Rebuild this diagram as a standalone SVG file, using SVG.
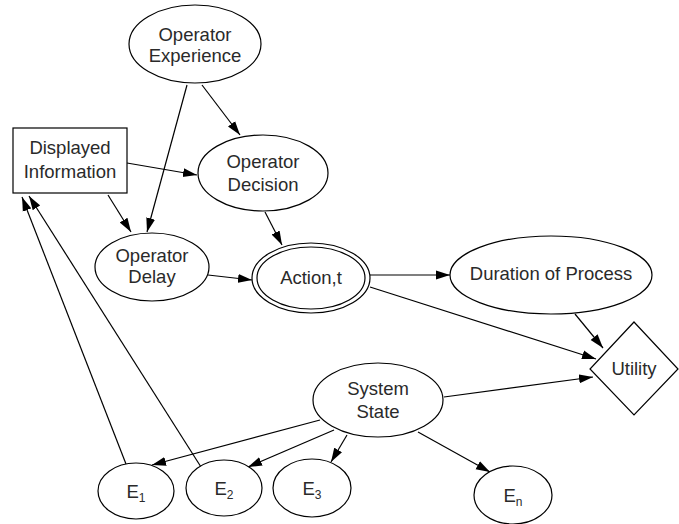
<svg xmlns="http://www.w3.org/2000/svg" width="679" height="524" viewBox="0 0 679 524">
<defs>
<marker id="ah" markerUnits="userSpaceOnUse" markerWidth="15" markerHeight="10" refX="14" refY="5" orient="auto">
<path d="M0,0.5 L14,5 L0,9.5 z" fill="#000"/>
</marker>
<style>
.n{fill:#fff;stroke:#000;stroke-width:1.2}
.t{font-family:"Liberation Sans",Arial,sans-serif;font-size:18.5px;fill:#2a2a2a;text-anchor:middle}
.s{font-size:12px}
.e{fill:none;stroke:#000;stroke-width:1.2;marker-end:url(#ah)}
</style>
</defs>
<rect width="679" height="524" fill="#fff"/>
<g id="edges">
<line class="e" x1="202" y1="85" x2="240" y2="135"/>
<line class="e" x1="187" y1="85" x2="147" y2="232"/>
<line class="e" x1="127" y1="163" x2="197" y2="175"/>
<line class="e" x1="108" y1="195" x2="131" y2="232"/>
<line class="e" x1="265" y1="212" x2="282" y2="245"/>
<line class="e" x1="208" y1="275" x2="252" y2="280"/>
<line class="e" x1="370" y1="275" x2="450" y2="275"/>
<line class="e" x1="370" y1="287" x2="596" y2="359"/>
<line class="e" x1="575" y1="314" x2="603" y2="348"/>
<line class="e" x1="444" y1="397" x2="593" y2="377"/>
<line class="e" x1="320" y1="420" x2="152" y2="465"/>
<line class="e" x1="334" y1="430" x2="248" y2="467"/>
<line class="e" x1="347" y1="435" x2="331" y2="462"/>
<line class="e" x1="418" y1="432" x2="490" y2="472"/>
<line class="e" x1="126" y1="464" x2="22" y2="197"/>
<line class="e" x1="201" y1="467" x2="29" y2="196"/>
</g>
<g id="operator-experience">
<ellipse class="n" cx="195" cy="44" rx="66" ry="39"/>
<text class="t" x="195" y="41">Operator</text>
<text class="t" x="195" y="62">Experience</text>
</g>
<g id="displayed-information">
<rect class="n" x="13" y="128" width="114" height="65"/>
<text class="t" x="70" y="154">Displayed</text>
<text class="t" x="70" y="178">Information</text>
</g>
<g id="operator-decision">
<ellipse class="n" cx="263" cy="173" rx="65" ry="38"/>
<text class="t" x="263" y="168">Operator</text>
<text class="t" x="263" y="191">Decision</text>
</g>
<g id="operator-delay">
<ellipse class="n" cx="152" cy="267" rx="57" ry="34"/>
<text class="t" x="152" y="262">Operator</text>
<text class="t" x="152" y="283">Delay</text>
</g>
<g id="action">
<ellipse class="n" cx="311" cy="278" rx="59" ry="35"/>
<ellipse class="n" cx="311" cy="278" rx="54" ry="31"/>
<text class="t" x="311" y="284">Action,t</text>
</g>
<g id="duration">
<ellipse class="n" cx="551" cy="275" rx="101" ry="39"/>
<text class="t" x="551" y="280">Duration of Process</text>
</g>
<g id="utility">
<polygon class="n" points="634,322 678,369 634,415 590,369"/>
<text class="t" x="634" y="375">Utility</text>
</g>
<g id="system-state">
<ellipse class="n" cx="378" cy="400" rx="65" ry="37"/>
<text class="t" x="378" y="395">System</text>
<text class="t" x="378" y="418">State</text>
</g>
<g id="e1">
<ellipse class="n" cx="136" cy="491" rx="38" ry="28"/>
<text class="t" x="136" y="498">E<tspan class="s" dy="4">1</tspan></text>
</g>
<g id="e2">
<ellipse class="n" cx="224" cy="488" rx="38" ry="28"/>
<text class="t" x="224" y="495">E<tspan class="s" dy="4">2</tspan></text>
</g>
<g id="e3">
<ellipse class="n" cx="312" cy="488" rx="39" ry="29"/>
<text class="t" x="312" y="495">E<tspan class="s" dy="4">3</tspan></text>
</g>
<g id="en">
<ellipse class="n" cx="513" cy="495" rx="39" ry="29"/>
<text class="t" x="513" y="502">E<tspan class="s" dy="4">n</tspan></text>
</g>
</svg>
